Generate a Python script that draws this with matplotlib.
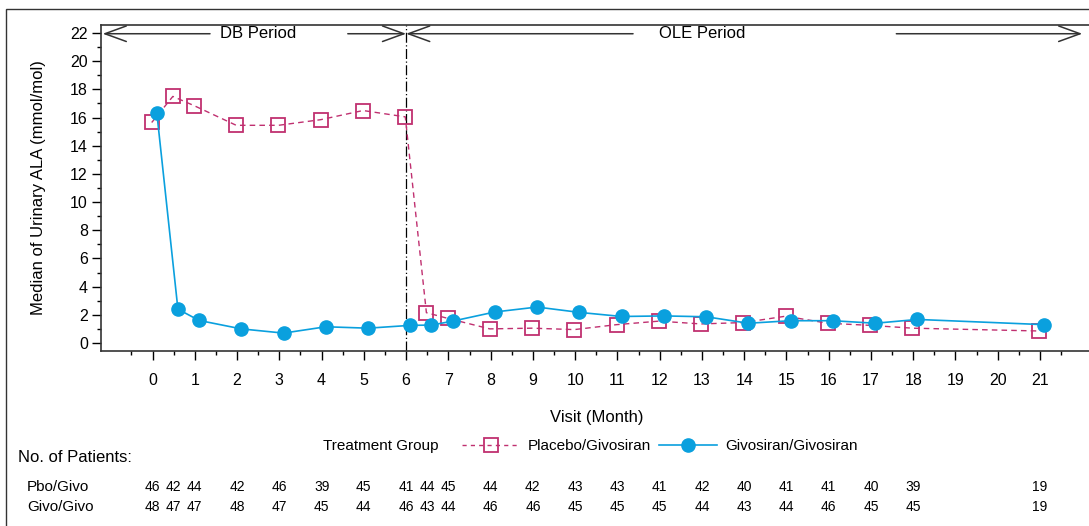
import matplotlib
matplotlib.use("Agg")
import matplotlib.pyplot as plt
from matplotlib.lines import Line2D
from matplotlib.patches import Rectangle
from matplotlib.transforms import blended_transform_factory

# data
visits = [0, 0.5, 1, 2, 3, 4, 5, 6, 6.5, 7, 8, 9, 10, 11, 12, 13, 14, 15, 16, 17, 18, 21]
pbo_median = [15.65, 17.5, 16.85, 15.45, 15.45, 15.85, 16.5, 16.05, 2.15, 1.75, 1.0, 1.05,
              0.95, 1.3, 1.55, 1.35, 1.45, 1.9, 1.4, 1.25, 1.05, 0.85]
givo_median = [16.35, 2.4, 1.6, 1.0, 0.7, 1.15, 1.05, 1.25, 1.27, 1.55, 2.2, 2.55,
               2.17, 1.88, 1.92, 1.86, 1.4, 1.58, 1.58, 1.4, 1.67, 1.3]
pbo_n = [46, 42, 44, 42, 46, 39, 45, 41, 44, 45, 44, 42, 43, 43, 41, 42, 40, 41, 41, 40, 39, 19]
givo_n = [48, 47, 47, 48, 47, 45, 44, 46, 43, 44, 46, 46, 45, 45, 45, 44, 43, 44, 46, 45, 45, 19]
group_labels = ["Placebo/Givosiran", "Givosiran/Givosiran"]
row_labels = ["Pbo/Givo", "Givo/Givo"]

pbo_color = "#C03070"
givo_color = "#0AA0DE"
plt.rcParams["font.family"] = ["Liberation Sans", "DejaVu Sans"]

W, H = 1089, 526
fig = plt.figure(figsize=(W / 100, H / 100), dpi=100)
ax = fig.add_axes([101 / W, 1 - 351 / H, (1092 - 101) / W, (351 - 25) / H])

# outer frame of the page
fig.patches.append(Rectangle((6 / W, -0.1), 1.2, 1 - 9 / H + 0.1, transform=fig.transFigure,
                             fill=False, lw=1.0, edgecolor="#333333", clip_on=False))

# lines (small dodge between groups)
pbo_x = [v - 0.02 for v in visits]
givo_x = [v + 0.1 for v in visits]
ax.plot(pbo_x, pbo_median, color=pbo_color, ls=(0, (4, 3)), lw=1.0, marker="s",
        markersize=10, markerfacecolor="none", markeredgecolor=pbo_color, markeredgewidth=1.3,
        zorder=3)
ax.plot(givo_x, givo_median, color=givo_color, ls="-", lw=1.2, marker="o",
        markersize=9.5, markerfacecolor=givo_color, markeredgecolor=givo_color, zorder=4)

ax.set_xlim(-1.22, 22.23)
ax.set_ylim(-0.57, 22.57)
ax.set_xticks(range(0, 22))
ax.set_xticks([i + 0.5 for i in range(-1, 22)], minor=True)
ax.set_yticks(range(0, 23, 2))
ax.set_yticks(range(1, 23, 2), minor=True)
ax.tick_params(axis="both", which="major", direction="out", length=6.5, width=1, labelsize=11.5)
ax.tick_params(axis="both", which="minor", direction="out", length=3.2, width=1)
ax.tick_params(axis="x", which="major", pad=9)
ax.tick_params(axis="y", which="major", pad=3)
for sp in ax.spines.values():
    sp.set_linewidth(1.2)
    sp.set_color("#333333")

ax.set_xlabel("Visit (Month)", fontsize=12)
ax.xaxis.set_label_coords(0.5, -(410 - 351) / 326)
ax.set_ylabel("Median of Urinary ALA (mmol/mol)", fontsize=12)
ax.yaxis.set_label_coords((46 - 101) / 991, 0.5)

# DB / OLE period markers
ax.axvline(6, color="black", ls=(0, (8, 2, 1, 2)), lw=0.9, zorder=2)
arrow_y = 21.95
ap = dict(arrowstyle="->,head_length=1.54,head_width=0.56", color="#333333", lw=1.1,
          shrinkA=0, shrinkB=0, mutation_scale=10)
for start, end in [(1.36, -1.18), (4.62, 6.0), (11.37, 6.0), (17.6, 22.0)]:
    ax.annotate("", xy=(end, arrow_y), xytext=(start, arrow_y), arrowprops=ap,
                annotation_clip=False)
ax.text(2.49, arrow_y, "DB Period", ha="center", va="center", fontsize=12)
ax.text(13.0, arrow_y, "OLE Period", ha="center", va="center", fontsize=12)

# legend
fig.text(381 / W, 1 - 446 / H, "Treatment Group", ha="center", va="center", fontsize=11)
handles = [
    Line2D([], [], color=pbo_color, ls=(0, (3, 3)), lw=1.0, marker="s", markersize=10,
           markerfacecolor="none", markeredgecolor=pbo_color, markeredgewidth=1.3),
    Line2D([], [], color=givo_color, ls="-", lw=1.2, marker="o", markersize=9.5,
           markerfacecolor=givo_color, markeredgecolor=givo_color),
]
fig.legend(handles, group_labels, loc="center left", bbox_to_anchor=(462 / W, 1 - 446 / H),
           ncol=2, frameon=False, fontsize=11, handlelength=3.8, handletextpad=0.52,
           columnspacing=0.52, borderpad=0, borderaxespad=0)

# number of patients table
fig.text(18 / W, 1 - 457 / H, "No. of Patients:", ha="left", va="center", fontsize=12)
trans = blended_transform_factory(ax.transData, fig.transFigure)
for row_label, counts, ypx in [(row_labels[0], pbo_n, 487), (row_labels[1], givo_n, 507)]:
    yf = 1 - ypx / H
    fig.text(27 / W, yf, row_label, ha="left", va="center", fontsize=11)
    for v, n in zip(visits, counts):
        ax.text(v, yf, str(n), transform=trans, ha="center", va="center", fontsize=10,
                clip_on=False)

fig.savefig("out.png", dpi=100)
